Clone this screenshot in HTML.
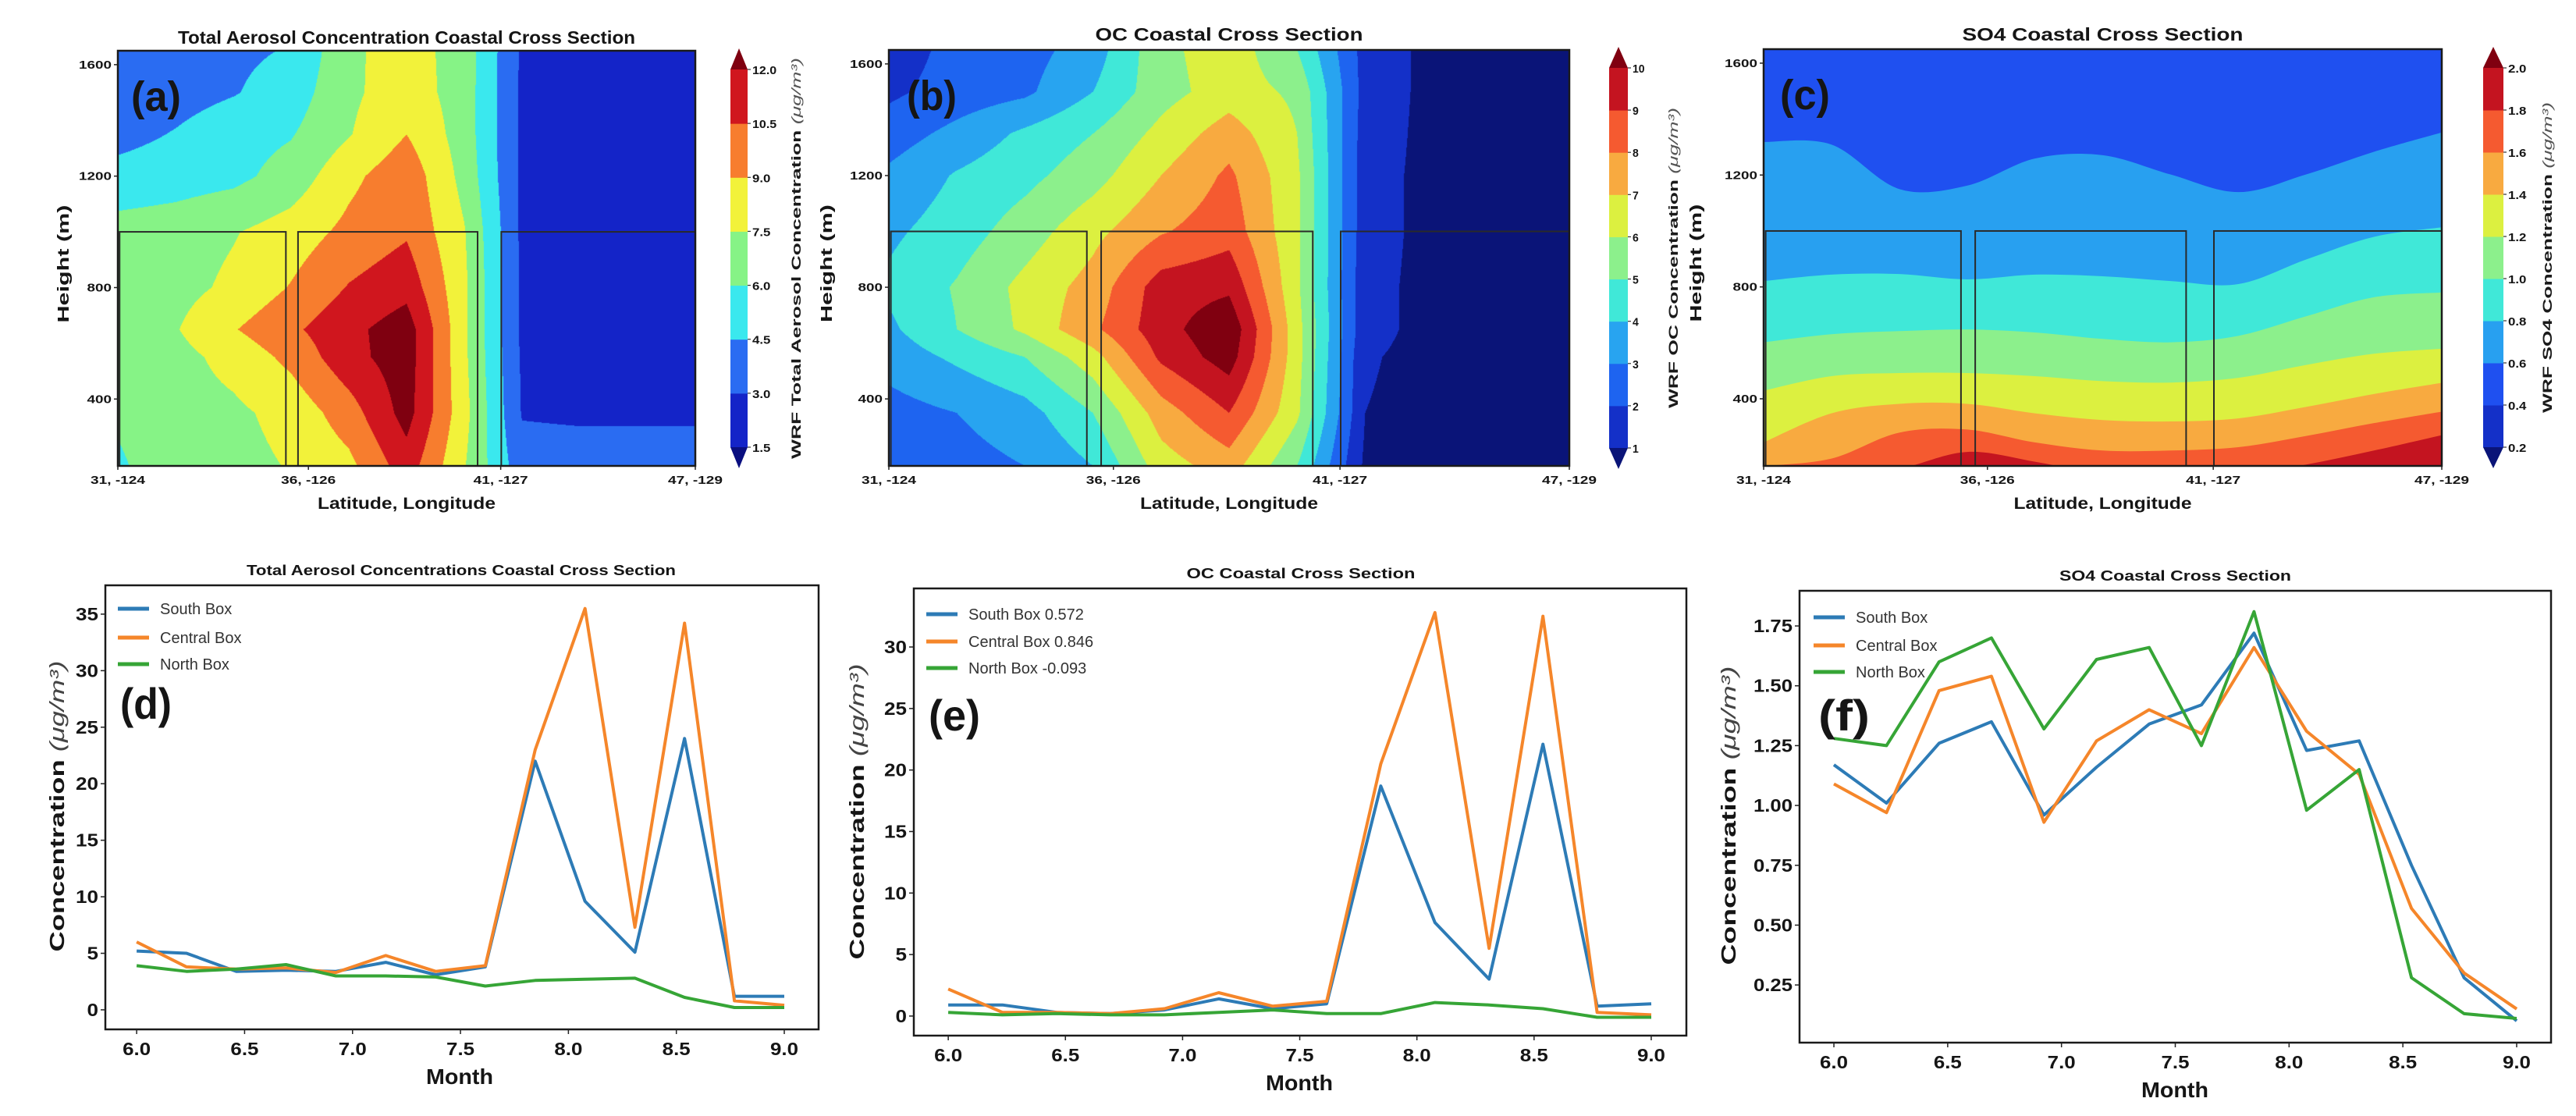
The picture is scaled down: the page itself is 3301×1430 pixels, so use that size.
<!DOCTYPE html>
<html><head><meta charset="utf-8"><title>Coastal Cross Section Figure</title>
<style>
body{margin:0;background:#fff;}
#wrap{position:relative;width:3301px;height:1430px;overflow:hidden;background:#fff;}
canvas{position:absolute;}
#fig{position:absolute;left:0;top:0;}
text{font-family:"Liberation Sans Narrow","Liberation Sans",sans-serif;}
</style></head>
<body>
<div id="wrap">
<canvas id="hmA" width="740" height="532" style="left:151px;top:65px"></canvas>
<canvas id="hmB" width="872" height="533" style="left:1139px;top:64px"></canvas>
<svg id="fig" width="3301" height="1430" xmlns="http://www.w3.org/2000/svg"></svg>
</div>
<script>
// ---------- data ----------
const gridX = [0,0.1,0.2,0.3,0.4,0.5,0.6,0.7,0.8,0.9,1.0];
const gridH = [160,350,550,650,800,1000,1200,1350,1500,1650];
const aGrid = [
[5.8,6.8,7.0,7.6,8.6,11.3,7.6,3.6,3.6,3.6,3.6],
[6.2,6.9,7.2,8.0,9.8,12.6,8.0,2.9,2.8,2.8,2.8],
[6.8,7.0,8.0,9.4,11.5,12.8,7.8,2.8,2.7,2.7,2.7],
[7.0,7.4,8.9,10.2,11.6,12.8,7.8,2.7,2.7,2.7,2.7],
[6.5,7.0,7.8,9.1,10.6,11.5,7.8,2.7,2.7,2.7,2.7],
[6.6,6.8,7.4,8.2,9.4,10.3,7.6,2.7,2.7,2.7,2.7],
[5.0,5.3,5.6,6.6,8.6,10.0,7.0,2.7,2.7,2.7,2.7],
[4.0,4.6,5.4,5.9,7.4,9.0,6.8,2.7,2.7,2.7,2.7],
[3.5,3.9,4.4,5.2,7.2,8.3,6.8,2.7,2.7,2.7,2.7],
[3.4,3.8,4.2,4.6,7.2,8.2,6.8,2.8,2.7,2.7,2.7]];
const aLevels = [1.5,3.0,4.5,6.0,7.5,9.0,10.5,12.0];
const aColors = ['#0a0f80','#1424c8','#2a6cf2','#3ae8ee','#86f386','#f2f23a','#f77d2e','#d0161e','#7f0010'];
const bGrid = [
[2.3,2.6,3.0,4.0,6.5,7.5,5.0,0.8,0.7,0.7,0.7],
[2.6,3.0,3.6,5.0,7.5,9.0,6.2,1.0,0.7,0.7,0.7],
[3.4,4.2,5.0,6.6,9.2,10.5,6.4,1.1,0.7,0.7,0.7],
[3.8,5.0,6.2,7.8,9.6,10.8,6.4,1.3,0.7,0.7,0.7],
[4.2,5.1,6.3,7.4,9.5,9.8,6.2,1.3,0.7,0.7,0.7],
[3.8,4.5,5.5,6.7,7.9,8.6,6.2,1.4,0.7,0.7,0.7],
[3.2,4.1,4.7,5.6,7.0,8.2,6.2,1.4,0.7,0.7,0.7],
[2.5,3.3,4.2,5.0,6.3,7.5,6.0,1.5,0.7,0.7,0.7],
[1.8,2.4,2.8,4.0,5.6,6.5,5.8,1.6,0.7,0.7,0.7],
[1.5,2.3,2.6,3.5,5.7,6.6,5.0,1.6,0.7,0.7,0.7]];
const bLevels = [1,2,3,4,5,6,7,8,9,10];
const bColors = ['#0a1478','#1430c8','#1e64f0','#28a4f0','#40e8d8','#8cf08c','#dcf040','#f8aa40','#f55a30','#c41420','#800010'];
const cLevels = [0.2,0.4,0.6,0.8,1.0,1.2,1.4,1.6,1.8,2.0];
const cColors = ['#0a1478','#1430c8','#1f50f0','#28a0f0','#40e8d8','#8cf08c','#dcf040','#f8aa40','#f55a30','#c41420','#800010'];
const cBoundLevels = [0.6,0.8,1.0,1.2,1.4,1.6,1.8];
const cBounds = [
[1318,1309,1150,1162,1259,1271,1202,1139,1202,1283,1352],
[821,844,846,827,844,838,821,810,898,979,1013],
[602,631,642,648,637,614,602,625,695,763,780],
[429,481,492,492,481,463,458,475,521,561,579],
[244,348,382,382,348,324,319,330,371,417,457],
[160,186,279,290,244,215,215,227,267,313,354],
[120,120,150,210,175,130,120,130,165,215,270]];
const heightTicks = [400,800,1200,1600];
const latLabels = ["31, -124","36, -126","41, -127","47, -129"];
const latFrac = [0,0.33,0.663,1.0];
const boxFrac = [[0.003,0.291],[0.312,0.623],[0.664,1.0]];
const boxTop = 1000;

const months = [6.0,6.231,6.462,6.692,6.923,7.154,7.385,7.615,7.846,8.077,8.308,8.538,8.769,9.0];
const monthTicks = [6.0,6.5,7.0,7.5,8.0,8.5,9.0];
const dSouth = [5.2,5.0,3.4,3.5,3.4,4.2,3.1,3.8,22.0,9.6,5.1,24.0,1.2,1.2];
const dCentral = [6.0,3.8,3.6,3.7,3.3,4.8,3.4,3.9,23.0,35.5,7.3,34.2,0.8,0.4];
const dNorth = [3.9,3.4,3.6,4.0,3.0,3.0,2.9,2.1,2.6,2.7,2.8,1.1,0.2,0.2];
const dYTicks = [0,5,10,15,20,25,30,35];
const eSouth = [0.9,0.9,0.3,0.2,0.5,1.4,0.6,1.0,18.7,7.6,3.0,22.1,0.8,1.0];
const eCentral = [2.2,0.3,0.3,0.2,0.6,1.9,0.8,1.2,20.5,32.8,5.5,32.5,0.3,0.1];
const eNorth = [0.3,0.1,0.2,0.1,0.1,0.3,0.5,0.2,0.2,1.1,0.9,0.6,-0.1,-0.1];
const eYTicks = [0,5,10,15,20,25,30];
const fSouth = [1.17,1.01,1.26,1.35,0.96,1.16,1.34,1.42,1.72,1.23,1.27,0.75,0.28,0.10];
const fCentral = [1.09,0.97,1.48,1.54,0.93,1.27,1.40,1.30,1.66,1.31,1.13,0.57,0.30,0.15];
const fNorth = [1.28,1.25,1.60,1.70,1.32,1.61,1.66,1.25,1.81,0.98,1.15,0.28,0.13,0.11];
const fYTicks = [0.25,0.50,0.75,1.00,1.25,1.50,1.75];
const seriesColors = ['#2d7bb6','#f5862a','#36a536'];

// ---------- helpers ----------
const NS='http://www.w3.org/2000/svg';
const svg=document.getElementById('fig');
function mk(tag,attrs,parent){const e=document.createElementNS(NS,tag);for(const k in attrs)e.setAttribute(k,attrs[k]);(parent||svg).appendChild(e);return e;}
function txt(x,y,s,size,o){o=o||{};const e=mk('text',{x:x,y:y,'font-size':size,'font-weight':o.w||'bold','text-anchor':o.a||'middle',fill:o.fill||'#151515'},o.p);
 if(o.len){e.setAttribute('textLength',o.len);e.setAttribute('lengthAdjust','spacingAndGlyphs');}
 if(o.rot){e.setAttribute('transform','rotate(-90 '+x+' '+y+')');}
 e.textContent=s;return e;}
function hexRgb(h){return [parseInt(h.substr(1,2),16),parseInt(h.substr(3,2),16),parseInt(h.substr(5,2),16)];}
const H_MIN=160,H_MAX=1650;

function drawField(id,grid,levels,colors){
 const cv=document.getElementById(id),ctx=cv.getContext('2d');const W=cv.width,H=cv.height;
 const img=ctx.createImageData(W,H);const rgb=colors.map(hexRgb);
 for(let py=0;py<H;py++){
  const h=H_MAX-(py+0.5)/H*(H_MAX-H_MIN);
  let j=0;while(j<gridH.length-2&&h>gridH[j+1])j++;
  let t=(h-gridH[j])/(gridH[j+1]-gridH[j]);t=Math.max(0,Math.min(1,t));
  for(let px=0;px<W;px++){
   const fx=(px+0.5)/W*(gridX.length-1);let i=Math.min(gridX.length-2,Math.floor(fx));const s=fx-i;
   const v=(grid[j][i]*(1-s)+grid[j][i+1]*s)*(1-t)+(grid[j+1][i]*(1-s)+grid[j+1][i+1]*s)*t;
   let k=0;while(k<levels.length&&v>=levels[k])k++;
   const c=rgb[k],o=(py*W+px)*4;img.data[o]=c[0];img.data[o+1]=c[1];img.data[o+2]=c[2];img.data[o+3]=255;}
 }
 ctx.putImageData(img,0,0);
}
drawField('hmA',aGrid,aLevels,aColors);
drawField('hmB',bGrid,bLevels,bColors);

function smoothPath(pts){let d='M'+pts[0][0]+','+pts[0][1];
 for(let i=0;i<pts.length-1;i++){const p0=pts[Math.max(0,i-1)],p1=pts[i],p2=pts[i+1],p3=pts[Math.min(pts.length-1,i+2)];
  d+=' C'+(p1[0]+(p2[0]-p0[0])/6)+','+(p1[1]+(p2[1]-p0[1])/6)+' '+(p2[0]-(p3[0]-p1[0])/6)+','+(p2[1]-(p3[1]-p1[1])/6)+' '+p2[0]+','+p2[1];}
 return d;}

// ---------- top panels ----------
function topPanel(cfg){
 const g=mk('g',{});
 
 
 const L=cfg.L,T=cfg.T,W=cfg.W,H=cfg.H;
 const xOf=f=>L+f*W, yOf=h=>T+(H_MAX-h)/(H_MAX-H_MIN)*H;
 if(cfg.contours){
  const cp=mk('clipPath',{id:'clipC'},g);mk('rect',{x:L,y:T,width:W,height:H},cp);
  const cg=mk('g',{'clip-path':'url(#clipC)'},g);
  
  
  mk('rect',{x:L,y:T,width:W,height:H,fill:cColors[2]},cg);
  cBoundLevels.forEach((lv,li)=>{
   const pts=gridX.map((f,i)=>[xOf(f),yOf(cBounds[li][i])]);
   const d=smoothPath(pts)+' L'+(L+W+5)+','+yOf(cBounds[li][gridX.length-1])+' L'+(L+W+5)+','+(T+H+5)+' L'+(L-5)+','+(T+H+5)+' L'+(L-5)+','+yOf(cBounds[li][0])+' Z';
   const ci=cLevels.indexOf(lv)+1;
   const p=mk('path',{d:d,fill:cColors[ci]},cg);
   
   
  });
 }
 // boxes
 boxFrac.forEach((b,i)=>{
  const r=mk('rect',{x:xOf(b[0]),y:yOf(boxTop),width:(b[1]-b[0])*W,height:T+H-yOf(boxTop),fill:'none',stroke:'#2a2a2a','stroke-width':2},g);
  
  
 });
 const fr=mk('rect',{x:L,y:T,width:W,height:H,fill:'none',stroke:'#1a1a1a','stroke-width':2.5},g);
 
 
 heightTicks.forEach(h=>{
  mk('line',{x1:L-5,x2:L,y1:yOf(h),y2:yOf(h),stroke:'#222','stroke-width':1.5},g);
  const t=txt(L-8,yOf(h)+5,String(h),15,{a:'end',p:g,len:String(h).length*10.5});
  
  
 });
 latLabels.forEach((s,i)=>{
  mk('line',{x1:xOf(latFrac[i]),x2:xOf(latFrac[i]),y1:T+H,y2:T+H+5,stroke:'#222','stroke-width':1.5},g);
  const t=txt(xOf(latFrac[i]),T+H+23,s,15,{p:g,len:70});
  
  
 });
 const tt=txt(L+W/2,cfg.titleY,cfg.title,23,{p:g,len:cfg.titleLen});
 
 
 const yl=txt(cfg.ylX,T+H/2+7,'Height (m)',20,{p:g,rot:true,len:151});
 
 
 const xl=txt(L+W/2,T+H+55,'Latitude, Longitude',21,{p:g,len:228});
 
 
 const pl=txt(cfg.tagX,T+77,cfg.tag,54,{a:'start',p:g,len:64});
 
 
 // colorbar
 const cb=mk('g',{},g);
 
 
 const lv=cfg.levels,n=lv.length,bx=cfg.cbX,bw=cfg.cbW,yTop=cfg.cbTop,yBot=cfg.cbBot;
 const cy=v=>yBot-(v-lv[0])/(lv[n-1]-lv[0])*(yBot-yTop);
 for(let i=0;i<n-1;i++){mk('rect',{x:bx,y:cy(lv[i+1]),width:bw,height:cy(lv[i])-cy(lv[i+1])+0.5,fill:cfg.colors[i+1]},cb);}
 mk('polygon',{points:bx+','+yTop+' '+(bx+bw)+','+yTop+' '+(bx+bw/2)+','+(yTop-27),fill:cfg.colors[n]},cb);
 mk('polygon',{points:bx+','+yBot+' '+(bx+bw)+','+yBot+' '+(bx+bw/2)+','+(yBot+27),fill:cfg.colors[0]},cb);
 lv.forEach(v=>{
  mk('line',{x1:bx+bw,x2:bx+bw+4,y1:cy(v),y2:cy(v),stroke:'#333','stroke-width':1.2},cb);
  const t=txt(bx+bw+6,cy(v)+6,cfg.fmt(v),15,{a:'start',p:cb,len:cfg.fmt(v).length*7.8});
  
  
 });
 const cl=mk('text',{x:cfg.cbLabX,y:(yTop+yBot)/2,'font-size':17,'font-weight':'bold','text-anchor':'middle',fill:'#1a1a1a',transform:'rotate(-90 '+cfg.cbLabX+' '+(yTop+yBot)/2+')',textLength:cfg.cbLabLen,lengthAdjust:'spacingAndGlyphs'},cb);
 cl.textContent=cfg.cbLab+' ';
 const ts=mk('tspan',{'font-style':'italic','font-weight':'normal',fill:'#555'},cl);ts.textContent='(μg/m³)';
 
 
}
topPanel({name:'panel-a-total-aerosol',L:151,T:65,W:740,H:532,title:'Total Aerosol Concentration Coastal Cross Section',titleY:56,titleLen:586,ylX:88,tag:'(a)',tagX:168,
 levels:aLevels,colors:aColors,cbX:936,cbW:22,cbTop:89,cbBot:573,fmt:v=>v.toFixed(1),cbLabX:1026,cbLabLen:514,cbLab:'WRF Total Aerosol Concentration'});
topPanel({name:'panel-b-oc',L:1139,T:64,W:872,H:533,title:'OC Coastal Cross Section',titleY:52,titleLen:343,ylX:1066,tag:'(b)',tagX:1162,
 levels:bLevels,colors:bColors,cbX:2062,cbW:24,cbTop:87,cbBot:574,fmt:v=>String(v),cbLabX:2150,cbLabLen:385,cbLab:'WRF OC Concentration'});
topPanel({name:'panel-c-so4',L:2260,T:63,W:869,H:534,contours:true,title:'SO4 Coastal Cross Section',titleY:52,titleLen:360,ylX:2180,tag:'(c)',tagX:2281,
 levels:cLevels,colors:cColors,cbX:3182,cbW:26,cbTop:87,cbBot:573,fmt:v=>v.toFixed(1),cbLabX:3270,cbLabLen:398,cbLab:'WRF SO4 Concentration'});

// ---------- line charts ----------
function lineChart(cfg){
 const g=mk('g',{});
 
 
 const L=cfg.L,T=cfg.T,R=cfg.R,B=cfg.B;
 const xOf=m=>L+(m-cfg.xd[0])/(cfg.xd[1]-cfg.xd[0])*(R-L);
 const yOf=v=>B-(v-cfg.yd[0])/(cfg.yd[1]-cfg.yd[0])*(B-T);
 const names=['south-box-line','central-box-line','north-box-line'];
 cfg.series.forEach((s,si)=>{
  const d=s.map((v,i)=>(i?'L':'M')+xOf(months[i]).toFixed(1)+','+yOf(v).toFixed(1)).join(' ');
  const p=mk('path',{d:d,fill:'none',stroke:seriesColors[si],'stroke-width':4,'stroke-linejoin':'round'},g);
  
  
 });
 const fr=mk('rect',{x:L,y:T,width:R-L,height:B-T,fill:'none',stroke:'#1a1a1a','stroke-width':2.5},g);
 
 
 cfg.yTicks.forEach(v=>{
  mk('line',{x1:L-6,x2:L,y1:yOf(v),y2:yOf(v),stroke:'#222','stroke-width':1.5},g);
  const s=cfg.fmt(v);
  const t=txt(L-9,yOf(v)+8,s,23,{a:'end',p:g,len:s.length*(s.indexOf('.')>=0?12.5:14.5)});
  
  
 });
 monthTicks.forEach(m=>{
  mk('line',{x1:xOf(m),x2:xOf(m),y1:B,y2:B+6,stroke:'#222','stroke-width':1.5},g);
  const t=txt(xOf(m),B+33,m.toFixed(1),23,{p:g,len:36});
  
  
 });
 const tt=txt((L+R)/2+cfg.titleDx,T-13,cfg.title,18,{p:g,len:cfg.titleLen});
 
 
 const xl=txt(cfg.monthX,B+70,'Month',28,{p:g,len:86});
 
 
 const yc=cfg.ylC;
 const yl=mk('text',{x:cfg.ylX,y:yc,'font-size':26,'font-weight':'bold','text-anchor':'middle',fill:'#151515',transform:'rotate(-90 '+cfg.ylX+' '+yc+')',textLength:cfg.ylLen,lengthAdjust:'spacingAndGlyphs'},g);
 yl.textContent='Concentration ';
 const ts=mk('tspan',{'font-style':'italic','font-weight':'normal',fill:'#444'},yl);ts.textContent='(μg/m³)';
 
 
 cfg.legend.forEach((lab,i)=>{
  const y=cfg.legY[i];
  const ln=mk('line',{x1:cfg.legX,x2:cfg.legX+40,y1:y,y2:y,stroke:seriesColors[i],'stroke-width':5},g);
  
  
  const t=txt(cfg.legX+54,y+7,lab,20,{a:'start',w:'normal',fill:'#333',p:g});
  
  
 });
 const pl=txt(cfg.tagX,cfg.tagY,cfg.tag,56,{a:'start',p:g,len:66});
 
 
}
lineChart({name:'panel-d-total-aerosol-timeseries',L:135,T:750,R:1049,B:1319,xd:[5.855,9.159],yd:[-1.73,37.55],series:[dSouth,dCentral,dNorth],yTicks:dYTicks,fmt:v=>String(v),
 title:'Total Aerosol Concentrations Coastal Cross Section',titleDx:-1,titleLen:550,monthX:589,ylX:82,ylC:1033,ylLen:373,legend:['South Box','Central Box','North Box'],legX:151,legY:[780,817,851],tag:'(d)',tagX:154,tagY:921});
lineChart({name:'panel-e-oc-timeseries',L:1171,T:754,R:2161,B:1327,xd:[5.853,9.15],yd:[-1.59,34.76],series:[eSouth,eCentral,eNorth],yTicks:eYTicks,fmt:v=>String(v),
 title:'OC Coastal Cross Section',titleDx:1,titleLen:293,monthX:1665,ylX:1107,ylC:1040,ylLen:379,legend:['South Box 0.572','Central Box 0.846','North Box -0.093'],legX:1187,legY:[787,822,856],tag:'(e)',tagX:1190,tagY:936});
lineChart({name:'panel-f-so4-timeseries',L:2306,T:757,R:3269,B:1336,xd:[5.849,9.151],yd:[0.009,1.897],series:[fSouth,fCentral,fNorth],yTicks:fYTicks,fmt:v=>v.toFixed(2),
 title:'SO4 Coastal Cross Section',titleDx:0,titleLen:297,monthX:2787,ylX:2224,ylC:1045,ylLen:383,legend:['South Box','Central Box','North Box'],legX:2324,legY:[791,827,861],tag:'(f)',tagX:2330,tagY:936});
</script>
</body></html>
